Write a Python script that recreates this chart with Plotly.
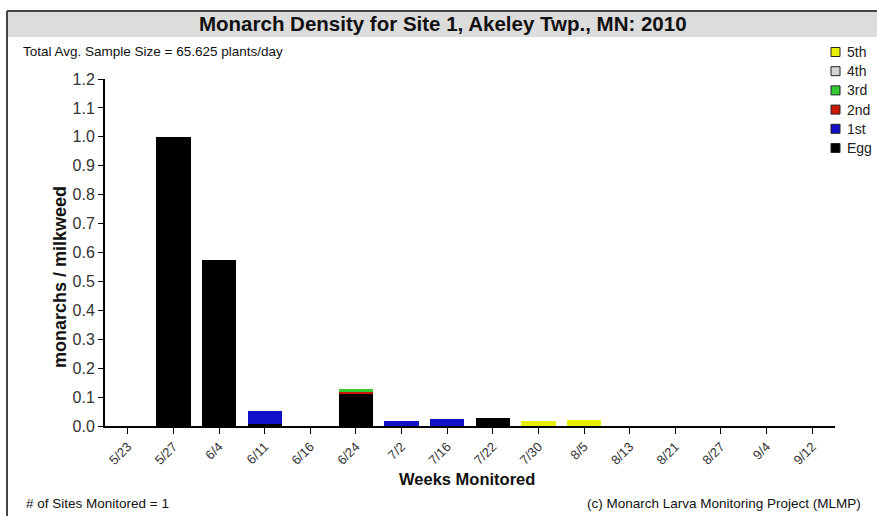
import plotly.graph_objects as go

weeks = ["5/23", "5/27", "6/4", "6/11", "6/16", "6/24", "7/2", "7/16",
         "7/22", "7/30", "8/5", "8/13", "8/21", "8/27", "9/4", "9/12"]
egg = [0, 1.0, 0.575, 0.006, 0, 0.113, 0, 0, 0.028, 0, 0, 0, 0, 0, 0, 0]
first = [0, 0, 0, 0.047, 0, 0, 0.017, 0.025, 0, 0, 0, 0, 0, 0, 0, 0]
second = [0, 0, 0, 0, 0, 0.004, 0, 0, 0, 0, 0, 0, 0, 0, 0, 0]
third = [0, 0, 0, 0, 0, 0.012, 0, 0, 0, 0, 0, 0, 0, 0, 0, 0]
fourth = [0] * 16
fifth = [0, 0, 0, 0, 0, 0, 0, 0, 0, 0.018, 0.022, 0, 0, 0, 0, 0]
y_ticks = [round(i * 0.1, 1) for i in range(13)]

series_names = ["Egg", "1st", "2nd", "3rd", "4th", "5th"]
series_values = [egg, first, second, third, fourth, fifth]
series_colors = ["#000000", "#1010c8", "#cc1a00", "#33cc33", "#d4d4d4", "#e8f000"]

FONT = "Liberation Sans, Arial, sans-serif"
fig = go.Figure()
for name, vals, col in zip(series_names, series_values, series_colors):
    fig.add_trace(go.Bar(x=weeks, y=vals, name=name, width=0.75,
                         marker=dict(color=col, line=dict(width=0))))

W, H = 877, 516
L, R, T, B = 105, 42, 79, 90
pw, ph = W - L - R, H - T - B


def px(x):
    return (x - L) / pw


def py(y):
    return (H - B - y) / ph


shapes = [
    dict(type="rect", xref="paper", yref="paper", x0=px(7), x1=px(877), y0=py(37), y1=py(11),
         fillcolor="#dcdcdc", line=dict(width=0), layer="below"),
    dict(type="line", xref="paper", yref="paper", x0=px(7), x1=px(877), y0=py(11), y1=py(11),
         line=dict(color="#444", width=2)),
    dict(type="line", xref="paper", yref="paper", x0=px(7), x1=px(7), y0=py(11), y1=py(516),
         line=dict(color="#444", width=2)),
]
annotations = [
    dict(text="<b>Monarch Density for Site 1, Akeley Twp., MN: 2010</b>", xref="paper", yref="paper",
         x=px(443), y=py(23), xanchor="center", yanchor="middle", showarrow=False,
         font=dict(size=20.5, color="#111")),
    dict(text="Total Avg. Sample Size = 65.625 plants/day", xref="paper", yref="paper",
         x=px(21), y=py(52), xanchor="left", yanchor="middle", showarrow=False,
         font=dict(size=13.5, color="#111")),
    dict(text="# of Sites Monitored = 1", xref="paper", yref="paper",
         x=px(24), y=py(503), xanchor="left", yanchor="middle", showarrow=False,
         font=dict(size=13.5, color="#111")),
    dict(text="(c) Monarch Larva Monitoring Project (MLMP)", xref="paper", yref="paper",
         x=px(863), y=py(503), xanchor="right", yanchor="middle", showarrow=False,
         font=dict(size=13.5, color="#111")),
    dict(text="<b>Weeks Monitored</b>", xref="paper", yref="paper",
         x=px(467), y=py(479), xanchor="center", yanchor="middle", showarrow=False,
         font=dict(size=16.5, color="#111")),
    dict(text="<b>monarchs / milkweed</b>", xref="paper", yref="paper", textangle=-90,
         x=px(60), y=py(277), xanchor="center", yanchor="middle", showarrow=False,
         font=dict(size=18, color="#111")),
]

# manual legend (top entry = last series)
for i, (name, col) in enumerate(zip(series_names[::-1], series_colors[::-1])):
    yc = 52 + 19.2 * i
    shapes.append(dict(type="rect", xref="paper", yref="paper",
                       x0=px(831), x1=px(840), y0=py(yc + 4.5), y1=py(yc - 4.5),
                       fillcolor=col, line=dict(color="#222", width=1)))
    annotations.append(dict(text=name, xref="paper", yref="paper", x=px(845), y=py(yc),
                            xanchor="left", yanchor="middle", showarrow=False,
                            font=dict(size=14, color="#222")))

fig.update_layout(
    width=W, height=H, barmode="stack", bargap=0.25,
    margin=dict(l=L, r=R, t=T, b=B, autoexpand=False),
    paper_bgcolor="white", plot_bgcolor="white",
    font=dict(family=FONT, size=12, color="#222"),
    showlegend=False,
    xaxis=dict(type="category", categoryorder="array", categoryarray=weeks,
               range=[-0.5, 15.5], showline=True, linecolor="#000", linewidth=2,
               ticks="outside", ticklen=6, tickcolor="#000", tickwidth=1,
               tickangle=-45, tickfont=dict(size=13, color="#333"),
               showgrid=False, zeroline=False),
    yaxis=dict(range=[0, 1.2], tickvals=y_ticks, ticktext=[f"{v:.1f}" for v in y_ticks],
               showline=True, linecolor="#000", linewidth=2, ticks="outside",
               ticklen=5, tickcolor="#000", tickfont=dict(size=16, color="#333"),
               showgrid=False, zeroline=False),
    shapes=shapes,
    annotations=annotations,
)

fig.write_html("out.html", config={"displayModeBar": False},
               post_script="document.body.style.margin='0px';")
